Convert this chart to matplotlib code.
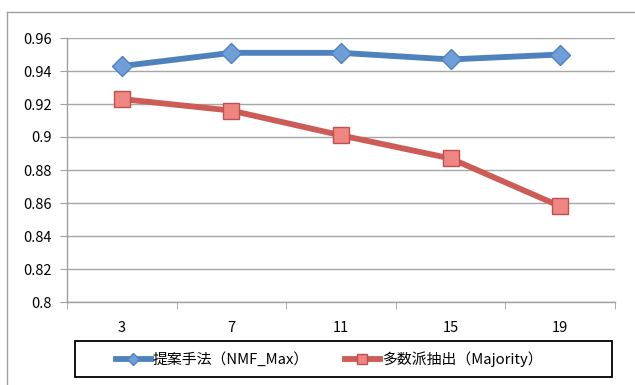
import matplotlib
matplotlib.use("Agg")
import matplotlib.pyplot as plt
import numpy as np
from matplotlib.lines import Line2D
from matplotlib.patches import Rectangle

plt.rcParams["font.family"] = ["Noto Sans CJK JP", "DejaVu Sans"]

categories = ["3", "7", "11", "15", "19"]
proposed = [0.943, 0.951, 0.951, 0.947, 0.950]
majority = [0.923, 0.916, 0.901, 0.887, 0.858]
y_ticks = [0.8, 0.82, 0.84, 0.86, 0.88, 0.9, 0.92, 0.94, 0.96]
y_labels = ["0.8", "0.82", "0.84", "0.86", "0.88", "0.9", "0.92", "0.94", "0.96"]
series_names = ["提案手法（NMF_Max）", "多数派抽出（Majority）"]

W, H = 635, 385
fig = plt.figure(figsize=(W / 100, H / 100), dpi=100)
ax = fig.add_axes([67 / W, 1 - 302 / H, (615 - 67) / W, (302 - 38) / H])

x = np.arange(len(categories))
ax.plot(x, proposed, color="#4f81bd", lw=4.2, marker="D", ms=10,
        mfc="#6f9fd8", mec="#4f81bd", mew=1, label=series_names[0], zorder=3)
ax.plot(x, majority, color="#cd5c57", lw=4.2, marker="s", ms=11,
        mfc="#f08682", mec="#c0504d", mew=1, label=series_names[1], zorder=3)

ax.set_xlim(-0.5, len(categories) - 0.5)
ax.set_ylim(0.8, 0.96)
ax.set_yticks(y_ticks)
ax.set_yticklabels(y_labels)
ax.set_xticks(x)
ax.set_xticklabels(categories)
ax.set_xticks(np.arange(-0.5, len(categories)), minor=True)
ax.tick_params(axis="x", which="major", length=0, pad=14, labelsize=10.5)
ax.tick_params(axis="x", which="minor", length=5, color="#a0a0a0", direction="out")
ax.tick_params(axis="y", length=5, color="#a0a0a0", pad=6, labelsize=10.5)
ax.yaxis.grid(True, color="#a6a6a6", lw=1)
ax.set_axisbelow(True)
for s in ["top", "right"]:
    ax.spines[s].set_visible(False)
for s in ["left", "bottom"]:
    ax.spines[s].set_color("#a0a0a0")
    ax.spines[s].set_linewidth(1)

# legend box drawn separately so its width matches the original
fig.add_artist(Rectangle((75 / W, 1 - 377 / H), (612 - 75) / W, 36 / H,
                         transform=fig.transFigure, fill=False,
                         edgecolor="black", lw=1.3))
fig.legend(loc="center", bbox_to_anchor=(329 / W, 1 - 359 / H),
           ncol=2, frameon=False, fontsize=10.7, markerscale=0.6,
           handlelength=2.4, columnspacing=2.4, handletextpad=0.1)

# outer chart border (left and top visible)
fig.add_artist(Line2D([7 / W, 7 / W], [0, 1 - 12 / H], transform=fig.transFigure,
                      color="#a0a0a0", lw=1))
fig.add_artist(Line2D([7 / W, 1], [1 - 12 / H, 1 - 12 / H], transform=fig.transFigure,
                      color="#a0a0a0", lw=1))

fig.savefig("out.png", dpi=100)
